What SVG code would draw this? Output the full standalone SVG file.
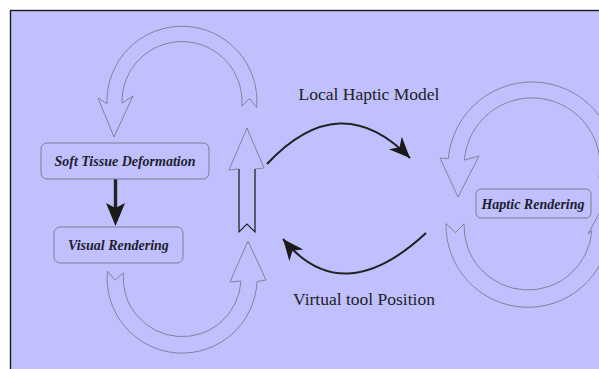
<svg xmlns="http://www.w3.org/2000/svg" width="599" height="369" viewBox="0 0 599 369">
<style>
.bg{fill:#c0c0ff;stroke:#1a1a1a;stroke-width:1.4}
.hollow{fill:none;stroke:#7c7c90;stroke-width:0.9;stroke-linejoin:miter}
.box{fill:#c0c0ff;stroke:#7c7c90;stroke-width:1}
.boxtxt{font-family:"Liberation Serif",serif;font-weight:bold;font-style:italic;font-size:14px;fill:#1e1e2e;text-anchor:middle}
.lbl{font-family:"Liberation Serif",serif;font-size:17.5px;fill:#222;text-anchor:middle}
.curve{fill:none;stroke:#222;stroke-width:2}
</style>
<defs>
<marker id="ah" viewBox="-22 -10 24 20" refX="0" refY="0" markerWidth="24" markerHeight="20" markerUnits="userSpaceOnUse" orient="auto">
<path d="M0,0 L-21,-9 L-15,0 L-21,9 Z" fill="#1a1a1a"/>
</marker>
</defs>
<rect class="bg" x="10.5" y="10.5" width="620" height="380"/>
<g id="cycle-arrows">
<path id="arc-top-left" class="hollow" d="M256.7,107.5 A75,75 0 1 0 107,103.6 L98,98 L114,137 L133,96 L122,103.1 A60,60 0 1 1 241.8,106.2 L249.5,98.6 Z"/>
<path id="arc-bottom-left" class="hollow" d="M107.4,271.2 A75,75 0 1 0 257,281.6 L266,280 L248,241 L230,282 L241,281.1 A59,59 0 1 1 123.3,272.8 L115,280.2 Z"/>
<g id="up-arrow">
<path class="hollow" d="M239,232 L247,224 L255,232 L255,169 L264,168 L247,128 L229,170 L239,169 Z"/>
<path d="M239,169 V232 L247,224 L255,232 V169" fill="none" stroke="#222" stroke-width="1.1"/>
</g>
<path id="arc-top-right" class="hollow" d="M614.7,180.6 A84,84 0 1 0 448.3,158.7 L440,158 L458,197 L479,156 L464.3,160.1 A68,68 0 1 1 599,177.8 L608,168.6 Z"/>
<path id="arc-bottom-right" class="hollow" d="M446,223.6 A82,82 0 0 0 609.7,232.1 L620,234 L612,190 L588,234 L591.8,230.6 A64,64 0 0 1 464,223.9 L455.4,232.6 Z"/>
</g>
<g id="connectors">
<path id="local-haptic" class="curve" d="M267,164 Q340,86 410,158" marker-end="url(#ah)"/>
<path id="virtual-tool" class="curve" d="M426,233 Q342,311 283,239" marker-end="url(#ah)"/>
<g id="deform-to-visual">
<line x1="115.5" y1="179" x2="115.5" y2="210" stroke="#222" stroke-width="3.4"/>
<path d="M106,203 L115.5,208 L125,203 L115.5,226 Z" fill="#1a1a1a"/>
</g>
</g>
<g id="node-soft-tissue">
<rect class="box" x="41" y="143" width="168" height="36" rx="6"/>
<text class="boxtxt" x="125" y="166">Soft Tissue Deformation</text>
</g>
<g id="node-visual">
<rect class="box" x="54" y="227" width="129" height="36" rx="6"/>
<text class="boxtxt" x="118.5" y="250">Visual Rendering</text>
</g>
<g id="node-haptic">
<rect class="box" x="476" y="189" width="115" height="29" rx="5"/>
<text class="boxtxt" x="533" y="209">Haptic Rendering</text>
</g>
<text class="lbl" x="369" y="100">Local Haptic Model</text>
<text class="lbl" x="364" y="305">Virtual tool Position</text>
</svg>
